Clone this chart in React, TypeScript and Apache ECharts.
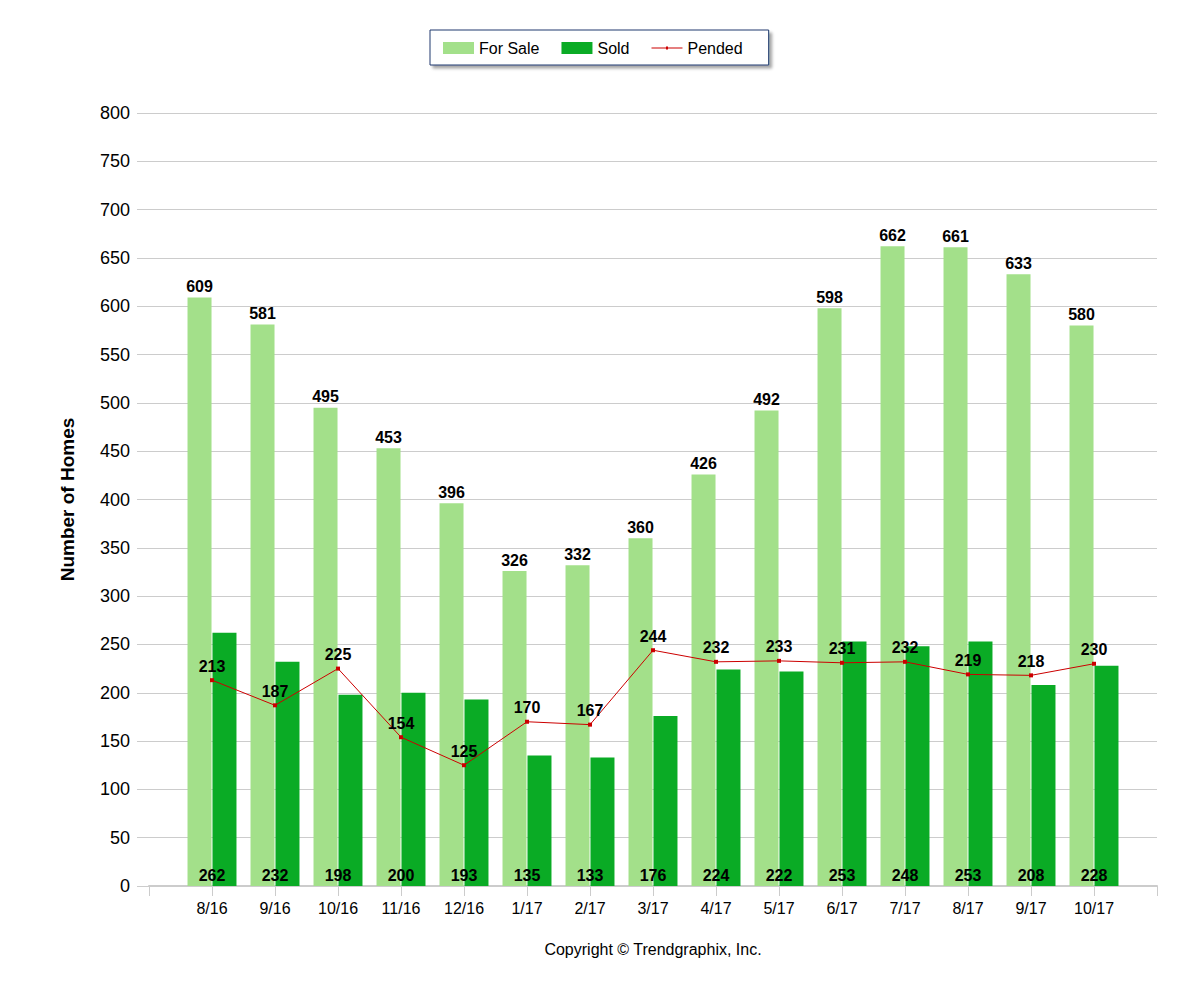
import React, { useEffect, useRef } from 'react';
import * as echarts from 'echarts';

// months shown on the x axis
const months = ['8/16', '9/16', '10/16', '11/16', '12/16', '1/17', '2/17', '3/17', '4/17', '5/17', '6/17', '7/17', '8/17', '9/17', '10/17'];
const forSale = [609, 581, 495, 453, 396, 326, 332, 360, 426, 492, 598, 662, 661, 633, 580];
const sold = [262, 232, 198, 200, 193, 135, 133, 176, 224, 222, 253, 248, 253, 208, 228];
const pended = [213, 187, 225, 154, 125, 170, 167, 244, 232, 233, 231, 232, 219, 218, 230];

const FONT = '"Liberation Sans", Arial, sans-serif';

// one empty slot on each side, like the original
const pad = <T,>(arr: T[]): (T | null)[] => [null, ...arr, null];

// thin line with a tiny marker for the legend (the two moveTo points fix the box to 31x12)
const LINE_ICON = 'path://M0,0M31,12M0,5.5H31V6.5H0ZM14.5,4.5H16.5V7.5H14.5Z';

const App: React.FC = () => {
  const chartRef = useRef<HTMLDivElement>(null);

  useEffect(() => {
    if (!chartRef.current) return;
    const chart = echarts.init(chartRef.current, undefined, { renderer: 'svg' });

    const valueLabel = {
      show: true,
      color: '#000',
      fontWeight: 'bold' as const,
      fontSize: 16,
      fontFamily: FONT,
    };

    chart.setOption({
      animation: false,
      backgroundColor: '#fff',
      textStyle: { fontFamily: FONT },
      legend: {
        top: 30,
        left: 430,
        padding: [10, 26, 9, 13],
        itemWidth: 31,
        itemHeight: 12,
        itemGap: 22,
        borderColor: '#1f3a6e',
        borderWidth: 1,
        backgroundColor: '#fff',
        shadowColor: 'rgba(0,0,0,0.35)',
        shadowBlur: 3,
        shadowOffsetX: 3,
        shadowOffsetY: 3,
        textStyle: { color: '#000', fontSize: 16, fontFamily: FONT },
        data: [
          { name: 'For Sale', icon: 'rect' },
          { name: 'Sold', icon: 'rect' },
          { name: 'Pended', icon: LINE_ICON },
        ],
      },
      grid: { left: 149, right: 43, top: 113, bottom: 114 },
      xAxis: {
        type: 'category',
        data: ['', ...months, ''],
        boundaryGap: false,
        axisLine: { lineStyle: { color: '#cccccc', width: 2 } },
        axisTick: { show: true, interval: 0, length: 10, lineStyle: { color: '#cccccc' } },
        axisLabel: { interval: 0, color: '#000', fontSize: 16, margin: 14, fontFamily: FONT },
        splitLine: { show: false },
      },
      yAxis: {
        type: 'value',
        min: 0,
        max: 800,
        interval: 50,
        name: 'Number of Homes',
        nameLocation: 'middle',
        nameGap: 72,
        nameRotate: 90,
        nameTextStyle: { color: '#000', fontSize: 19, fontWeight: 'bold', fontFamily: FONT },
        axisLine: { show: false },
        axisTick: { show: true, length: 12, lineStyle: { color: '#cccccc' } },
        axisLabel: { color: '#000', fontSize: 18, margin: 19, fontFamily: FONT },
        splitLine: { lineStyle: { color: '#cccccc', width: 1 } },
      },
      graphic: [
        {
          type: 'text',
          x: 653,
          y: 949,
          style: {
            text: 'Copyright © Trendgraphix, Inc.',
            fill: '#000',
            font: `16px ${FONT}`,
            align: 'center',
            verticalAlign: 'middle',
          },
        },
      ],
      series: [
        {
          name: 'For Sale',
          type: 'bar',
          data: pad(forSale),
          barWidth: 24,
          barGap: '4%',
          itemStyle: { color: '#a3e08a' },
          label: { ...valueLabel, position: 'top', distance: 3 },
        },
        {
          name: 'Sold',
          type: 'bar',
          data: pad(sold),
          barWidth: 24,
          itemStyle: { color: '#0aab25' },
          label: { ...valueLabel, position: 'insideBottom', distance: 3, offset: [-12.5, 0] },
        },
        {
          name: 'Pended',
          type: 'line',
          data: pad(pended),
          symbol: 'rect',
          symbolSize: 4,
          lineStyle: { color: '#cc0000', width: 1 },
          itemStyle: { color: '#cc0000' },
          label: { ...valueLabel, position: 'top', distance: 4 },
          z: 5,
        },
      ],
    });

    return () => chart.dispose();
  }, []);

  return (
    <div
      ref={chartRef}
      style={{ position: 'fixed', left: 0, top: 0, width: 1200, height: 1000 }}
    />
  );
};

export default App;
